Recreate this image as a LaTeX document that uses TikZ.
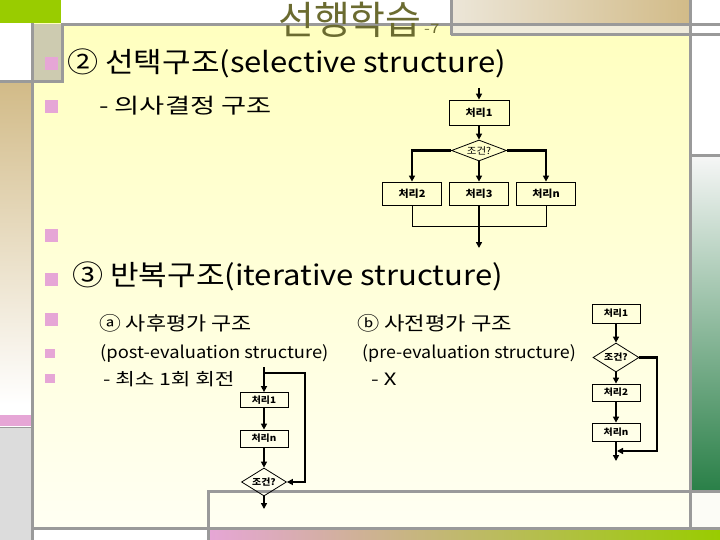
\documentclass[tikz,border=0pt]{standalone}
\usepackage{graphicx}
\usepackage{fontspec}
\setmainfont{Noto Sans CJK KR}
\usetikzlibrary{arrows.meta,shapes.geometric}
\definecolor{gline}{HTML}{9A9A9A}
\definecolor{olive}{HTML}{6B6B30}
\definecolor{bpink}{HTML}{E6A6D6}
\definecolor{tan}{HTML}{D2BB88}
\definecolor{lgreen}{HTML}{99CC00}
\definecolor{dgreen}{HTML}{2A8048}
\newcommand{\sx}[2]{\scalebox{#1}[1]{#2}}
\begin{document}
\begin{tikzpicture}[x=1pt,y=-1pt,
  gl/.style={draw=gline,line width=3pt},
  txt/.style={anchor=west,inner sep=0pt,text=black},
  pbox/.style={draw,line width=0.8pt,rectangle,inner sep=0pt,font=\fontsize{9}{10}\selectfont\bfseries},
  bigbox/.style={pbox,font=\fontsize{10}{11}\selectfont\bfseries},
  cond/.style={draw,line width=0.8pt,diamond,aspect=2.5,inner sep=0pt,font=\fontsize{9}{10}\selectfont\bfseries},
  flow/.style={line width=2.2pt,-{Triangle[length=6pt,width=6pt]}},
  thin/.style={line width=0.8pt}]
\useasboundingbox (0,0) rectangle (720,540);
% ---------- background ----------
\fill[white] (0,0) rectangle (720,540);
\shade[top color=yellow!25!white,bottom color=yellow!5!white] (32,24) rectangle (690,528);
\fill[lgreen] (0,0) rectangle (61,23);
\fill[color={rgb,255:red,205;green,203;blue,176}] (32,24) rectangle (62,82);
\shade[left color={rgb,255:red,236;green,230;blue,216},right color=tan] (451,0) rectangle (690,24);
\fill[color={rgb,255:red,240;green,236;blue,220}] (451,24) rectangle (690,34);
\shade[top color=tan,bottom color=white] (0,83) rectangle (31,405);
\fill[white] (0,405) rectangle (31,415);
\fill[bpink] (0,415) rectangle (31,426);
\fill[color={rgb,255:red,220;green,220;blue,220}] (0,427) rectangle (31,540);
\shade[top color={rgb,255:red,246;green,246;blue,246},bottom color=dgreen] (691,156) rectangle (720,490);
\fill[color={rgb,255:red,252;green,252;blue,246}] (691,492) rectangle (720,527);
\shade[left color=bpink,right color=lgreen] (208,530) rectangle (720,540);
% gray frame lines
\draw[gl] (61,24.5) -- (720,24.5);
\draw[gl] (451,34.5) -- (720,34.5);
\draw[gl] (451,0) -- (451,35);
\draw[gl] (690,0) -- (690,528);
\draw[gl] (32,23) -- (32,540);
\draw[gl] (0,82) -- (63,82);
\draw[gl] (62,23) -- (62,83);
\draw[gl] (690,155.5) -- (720,155.5);
\draw[gl] (208,491.5) -- (720,491.5);
\draw[gl] (208,490) -- (208,540);
\draw[gl] (31,528.5) -- (720,528.5);
\draw[gline,line width=1pt] (0,427) -- (31,427);
% ---------- title ----------
\node[txt,text=olive,font=\fontsize{39}{41}\selectfont] (title) at (278,20) {선행학습};
\node[txt,text=olive,font=\fontsize{13}{14}\selectfont] (titlenum) at (424,29) {\sx{1.3}{-7}};
% ---------- bullets ----------
\fill[bpink] (45,57) rectangle (58,70);
\fill[bpink] (45,100) rectangle (58,113);
\fill[bpink] (45,229) rectangle (58,242);
\fill[bpink] (45,273) rectangle (58,286);
\fill[bpink] (45,313) rectangle (58,326);
\fill[bpink] (45,349) rectangle (55,358);
\fill[bpink] (45,374) rectangle (55,383);
% ---------- texts ----------
\node[txt,font=\fontsize{28}{30}\selectfont] (h1) at (67,63) {\sx{1.11}{② 선택구조(selective structure)}};
\node[txt,font=\fontsize{21}{22}\selectfont] (h1a) at (99,106) {\sx{1.3}{-\ 의사결정 구조}};
\node[txt,font=\fontsize{28}{30}\selectfont] (h2) at (72,276) {\sx{1.11}{③ 반복구조(iterative structure)}};
\node[txt,font=\fontsize{19}{21}\selectfont] (h2a) at (99,323) {\sx{1.15}{ⓐ 사후평가 구조}};
\node[txt,font=\fontsize{19}{21}\selectfont] (h2b) at (357,323) {\sx{1.17}{ⓑ 사전평가 구조}};
\node[txt,font=\fontsize{17}{19}\selectfont] (h2c) at (100,353) {\sx{1.08}{(post-evaluation structure)}};
\node[txt,font=\fontsize{17}{19}\selectfont] (h2d) at (362,353) {\sx{1.05}{(pre-evaluation structure)}};
\node[txt,font=\fontsize{17}{19}\selectfont] (h2e) at (103,379) {\sx{1.25}{-\ 최소 1회 회전}};
\node[txt,font=\fontsize{17}{19}\selectfont] (h2f) at (371,379) {\sx{1.3}{-\ X}};
% ---------- selection flowchart ----------
\coordinate (s0) at (479,88);
\node[bigbox,minimum width=60pt,minimum height=25pt] (p1) at (479,112.5) {\sx{1.1}{처리1}};
\node[cond,minimum width=55pt,minimum height=21pt,font=\fontsize{9.5}{10}\selectfont] (c1) at (479,150.5) {\sx{1.1}{조건?}};
\node[bigbox,minimum width=59pt,minimum height=23pt] (p2) at (412,193.5) {\sx{1.1}{처리2}};
\node[bigbox,minimum width=59pt,minimum height=23pt] (p3) at (479,193.5) {\sx{1.1}{처리3}};
\node[bigbox,minimum width=59pt,minimum height=23pt] (pn) at (546,193.5) {\sx{1.1}{처리n}};
\coordinate (m1) at (479,226);
\coordinate (e1) at (479,248);
\draw[flow] (s0) -- (p1.north);
\draw[flow] (p1.south) -- (c1.north);
\draw[flow] (c1.west) -| (p2.north);
\draw[flow] (c1.south) -- (p3.north);
\draw[flow] (c1.east) -| (pn.north);
\draw[thin] (p2.south) -- (p2.south |- m1) -- (pn.south |- m1) -- (pn.south);
\draw[flow] (p3.south) -- (e1);
% ---------- post-evaluation flowchart ----------
\coordinate (a0) at (264,367);
\coordinate (a1) at (264,373);
\coordinate (a2) at (305,373);
\node[pbox,minimum width=48pt,minimum height=15pt] (q1) at (264,400) {\sx{1.1}{처리1}};
\node[pbox,minimum width=48pt,minimum height=17pt] (q2) at (264,438.5) {\sx{1.1}{처리n}};
\node[cond,minimum width=45pt,minimum height=28pt] (d2) at (264,482) {\sx{1.1}{조건?}};
\coordinate (e2) at (264,509);
\draw[flow] (a0) -- (q1.north);
\draw[flow] (q1.south) -- (q2.north);
\draw[flow] (q2.south) -- (d2.north);
\draw[flow] (d2.south) -- (e2);
\draw[flow] (a1) -- (a2) |- (d2.east);
% ---------- pre-evaluation flowchart ----------
\node[pbox,minimum width=48pt,minimum height=19pt] (r1) at (616,313.5) {\sx{1.1}{처리1}};
\node[cond,minimum width=46pt,minimum height=29pt] (d3) at (616,357.5) {\sx{1.1}{조건?}};
\node[pbox,minimum width=48pt,minimum height=17pt] (r2) at (616,392.5) {\sx{1.1}{처리2}};
\node[pbox,minimum width=48pt,minimum height=18pt] (r3) at (616,432) {\sx{1.1}{처리n}};
\coordinate (b1) at (657,451);
\coordinate (b2) at (617,451);
\coordinate (e3) at (616,461);
\draw[flow] (r1.south) -- (d3.north);
\draw[flow] (d3.south) -- (r2.north);
\draw[flow] (r2.south) -- (r3.north);
\draw[flow] (r3.south) -- (e3);
\draw[flow] (d3.east) -| (b1) -- (b2);
\end{tikzpicture}
\end{document}
